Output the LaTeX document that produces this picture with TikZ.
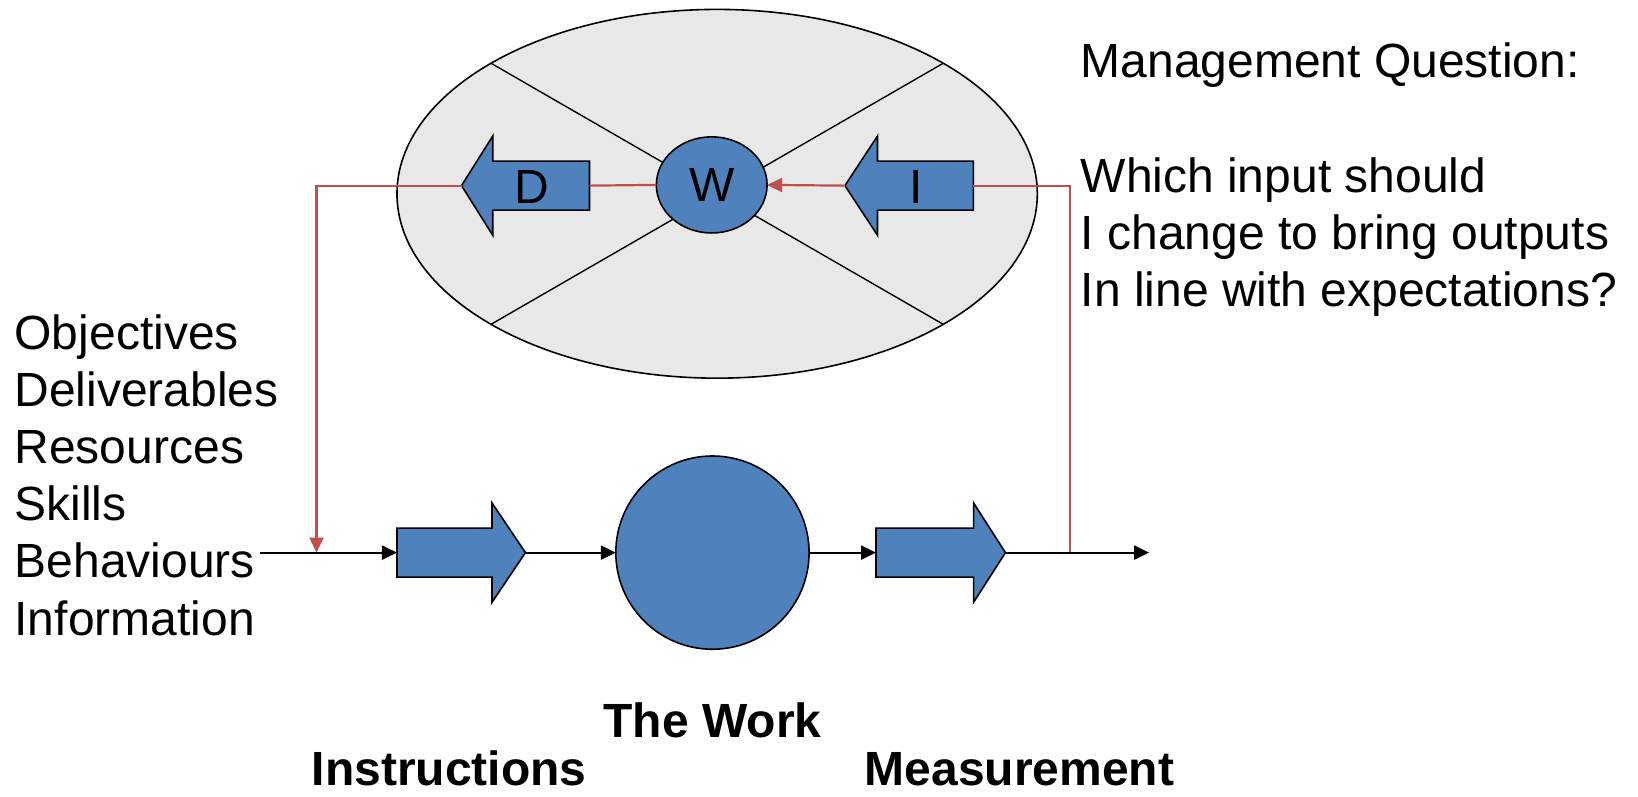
\documentclass[tikz,border=0pt]{standalone}
\usepackage{fontspec}
\setmainfont{Liberation Sans}
\usetikzlibrary{shapes.geometric,arrows.meta,fit}

\definecolor{boxblue}{HTML}{4F81BD}
\definecolor{loopred}{HTML}{C0504D}
\definecolor{panelgray}{HTML}{E8E8E8}

% one drawing unit in points
\def\px{1.0446pt}

% block arrow: #1 name, #2 tail x, #3 head base x, #4 tip x, #5 centre y
\newcommand\blockarrow[5]{%
  \draw[blockshape] (#2,{#5-23.5}) -- (#3,{#5-23.5}) -- (#3,{#5-47.5}) -- (#4,#5)
    -- (#3,{#5+47.5}) -- (#3,{#5+23.5}) -- (#2,{#5+23.5}) -- cycle;
  \node[fit={(#2,{#5-47.5}) (#4,{#5+47.5})}, inner sep=0pt, outer sep=0pt] (#1) {};
}

\tikzset{
  outline/.style={draw=black, line width=1.6pt},
  blockshape/.style={outline, fill=boxblue, line join=miter},
  divider/.style={draw=black, line width=1.4pt},
  flow/.style={draw=black, line width=2.2pt, -{Triangle[length=15pt,width=14pt]}},
  feedback/.style={draw=loopred, line width=2.2pt},
  feedtip/.style={-{Triangle[length=15pt,width=14pt]}},
  txt/.style={font=\fontsize{48pt}{57.2pt}\selectfont, inner sep=0pt, outer sep=0pt},
  boldtxt/.style={font=\fontsize{48pt}{57.2pt}\selectfont\bfseries, inner sep=0pt, outer sep=0pt},
}

\begin{document}
\begin{tikzpicture}[x=1.0446pt, y=-1.0446pt]
\useasboundingbox (0,0) rectangle (1568,762);

% management panel
\node[ellipse, outline, fill=panelgray, inner sep=0pt, outer sep=0pt,
      minimum width=613*\px, minimum height=353*\px] (mgmt) at (686.5,185.5) {};
\draw[divider] (mgmt.150) -- (mgmt.330);
\draw[divider] (mgmt.30) -- (mgmt.210);

% decision and information arrows inside the panel
\blockarrow{dArr}{564.3}{471.7}{441.8}{177.7}
\blockarrow{iArr}{931.7}{840}{808.8}{177.7}

% the process chain
\blockarrow{ins}{380}{471}{503}{529}
\blockarrow{meas}{838.6}{932}{962.5}{529}
\node[circle, outline, fill=boxblue, inner sep=0pt, outer sep=0pt,
      minimum size=185*\px] (work) at (682,529) {};

% free ends of the chain and the feedback taps
\coordinate (inStart) at (249,529);
\coordinate (outEnd) at (1100,529);
\coordinate (tap) at (1024,529);
\coordinate (drop) at (303,529);

% feedback loop
\draw[feedback] (tap) |- (iArr.east);
\node[ellipse, outline, fill=boxblue, inner sep=0pt, outer sep=0pt,
      minimum width=106*\px, minimum height=92*\px, txt] (w) at (681.3,177) {W};
\draw[feedback, feedtip] (iArr.west) -- (w.east);
\draw[feedback] (w.west) -- (dArr.east);
\draw[feedback, feedtip] (dArr.west) -| (drop);

% main flow
\draw[flow] (inStart) -- (ins.west);
\draw[flow] (ins.east) -- (work.west);
\draw[flow] (work.east) -- (meas.west);
\draw[flow] (meas.east) -- (outEnd);

% arrow labels
\node[txt, anchor=base] (dLabel) at (509,194.6) {D};
\node[txt, anchor=base] (iLabel) at (877.3,194.6) {I};

% texts (base anchor sits on the last line)
\node[txt, align=left, anchor=base west] (inputs) at (14,608)
  {Objectives\\Deliverables\\Resources\\Skills\\Behaviours\\Information};
\node[txt, align=left, anchor=base west] (question) at (1034.5,293.5)
  {Management Question:\\[57.2pt]Which input should\\I change to bring outputs\\In line with expectations?};

\node[boldtxt, anchor=base] (workLabel) at (682,706) {The Work};
\node[boldtxt, anchor=base] (insLabel) at (430,752) {Instructions};
\node[boldtxt, anchor=base] (measLabel) at (976,752) {Measurement};
\end{tikzpicture}
\end{document}
